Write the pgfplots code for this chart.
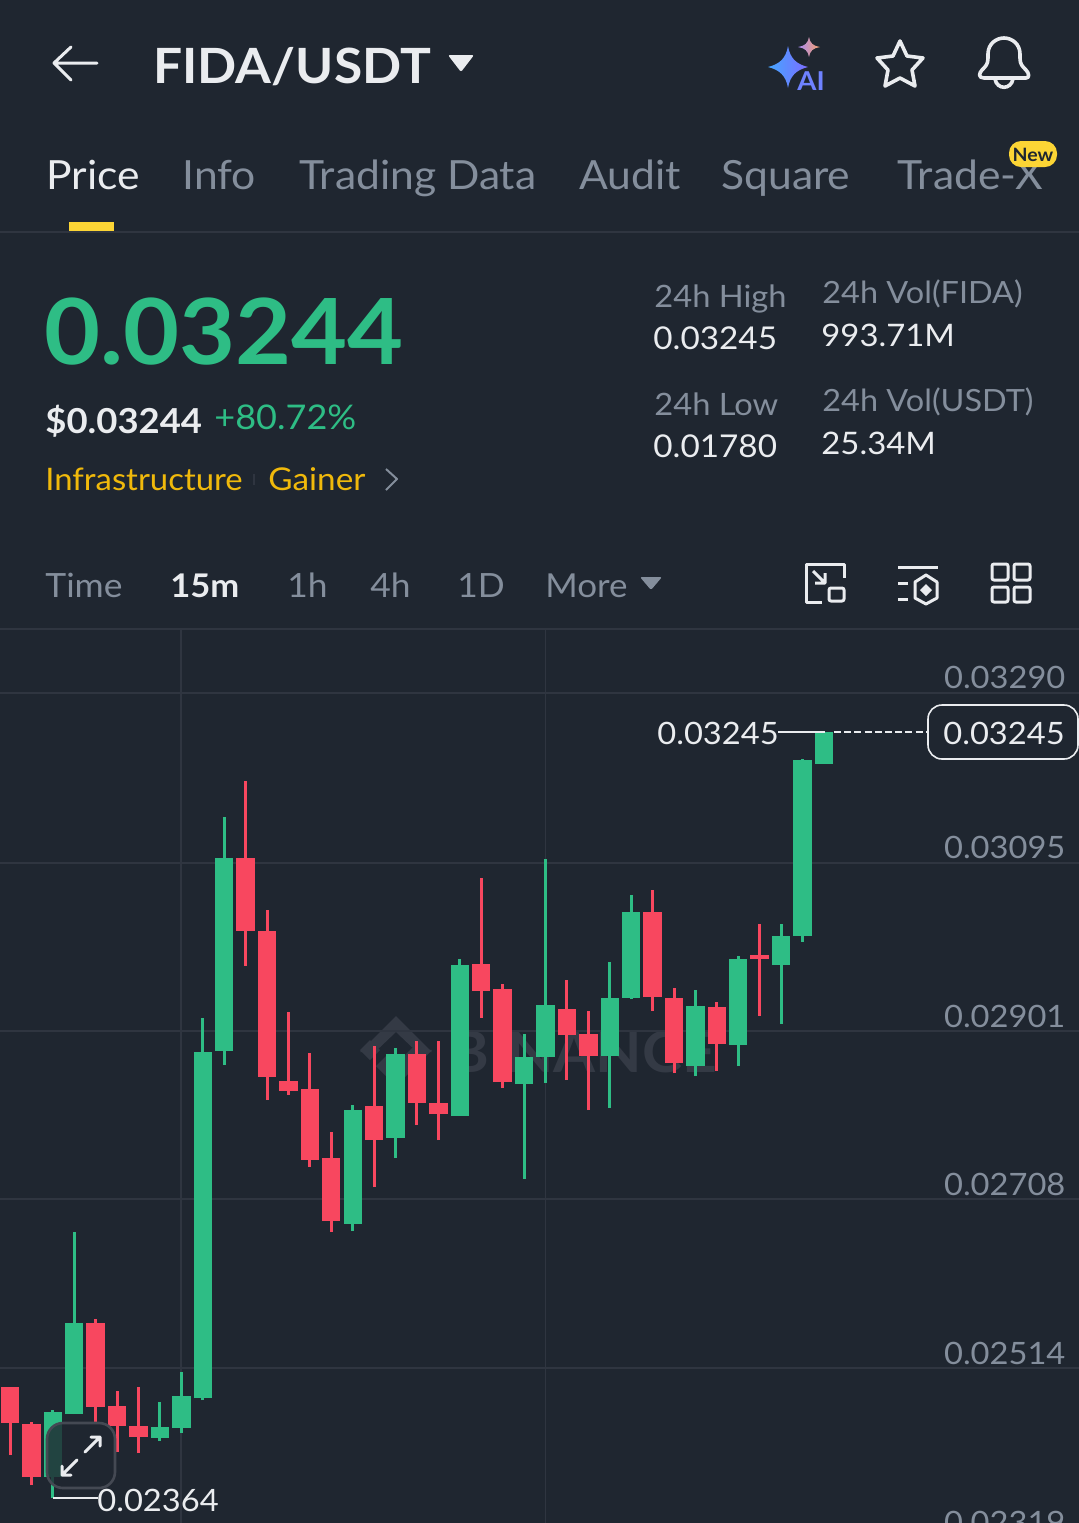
\documentclass[border=0pt]{standalone}
\usepackage{fontspec}
\setmainfont{Lato}[FakeStretch=1.06]
\usepackage{pgfplots}
\usepackage{pgfplotstable}
\pgfplotsset{compat=1.18}
\definecolor{bg}{HTML}{1F2630}
\definecolor{gridc}{HTML}{2F3540}
\definecolor{up}{HTML}{2EBD85}
\definecolor{down}{HTML}{F8475F}
\definecolor{gray1}{HTML}{848E9C}
\definecolor{white1}{HTML}{EAECEF}
\definecolor{yel}{HTML}{FCD535}
\definecolor{yel2}{HTML}{F0B90B}
\definecolor{wm}{HTML}{343A45}
\definecolor{aiA}{HTML}{45A6FF}
\definecolor{aiB}{HTML}{7C6CFF}
\definecolor{aiC}{HTML}{F5A06A}
\definecolor{aiD}{HTML}{A98BF5}
\definecolor{aiE}{HTML}{6F82FF}
\pgfplotstableread{
x bot top low high
2 0.023887 0.024634 0.023646 0.024657
3 0.024611 0.025658 0.024611 0.026704
7 0.024336 0.024462 0.024301 0.024749
8 0.024450 0.024818 0.024393 0.025094
9 0.024795 0.028773 0.024772 0.029164
10 0.028784 0.031003 0.028624 0.031475
16 0.026796 0.028106 0.026715 0.028164
18 0.027784 0.028750 0.027554 0.028819
21 0.028037 0.029773 0.028037 0.029842
24 0.028405 0.028716 0.027313 0.028980
25 0.028716 0.029313 0.028417 0.030992
28 0.028727 0.029394 0.028129 0.029808
29 0.029394 0.030382 0.029382 0.030578
32 0.028612 0.029302 0.028497 0.029486
34 0.028853 0.029842 0.028612 0.029877
36 0.029773 0.030106 0.029095 0.030244
37 0.030106 0.032130 0.030038 0.032141
38 0.032084 0.032452 0.032084 0.032452
}\greentable
\pgfplotstableread{
x bot top low high
0 0.024508 0.024922 0.024140 0.024922
1 0.023887 0.024496 0.023795 0.024519
4 0.024692 0.025658 0.024496 0.025704
5 0.024473 0.024703 0.024175 0.024876
6 0.024347 0.024473 0.024163 0.024922
11 0.030164 0.031003 0.029762 0.031888
12 0.028486 0.030164 0.028221 0.030405
13 0.028325 0.028440 0.028279 0.029233
14 0.027531 0.028348 0.027451 0.028761
15 0.026830 0.027554 0.026704 0.027853
17 0.027761 0.028152 0.027221 0.028842
19 0.028187 0.028750 0.027934 0.028899
20 0.028060 0.028187 0.027761 0.028899
22 0.029474 0.029785 0.029164 0.030773
23 0.028428 0.029497 0.028359 0.029555
26 0.028968 0.029267 0.028451 0.029601
27 0.028727 0.028980 0.028106 0.029244
30 0.029405 0.030382 0.029244 0.030635
31 0.028647 0.029394 0.028532 0.029509
33 0.028865 0.029290 0.028555 0.029348
35 0.029842 0.029888 0.029187 0.030244
}\redtable
\newcommand{\T}[5]{\node[anchor=base west,inner sep=0pt,text=#4,font=\fontsize{#3pt}{#3pt}\selectfont] at (#1,#2) {#5};}
\begin{document}
\begin{tikzpicture}[x=0.5pt,y=-0.5pt]
\path[use as bounding box] (0,0) rectangle (1079,1523);
\clip (0,0) rectangle (1079,1523);
\fill[bg] (0,0) rectangle (1079,1523);
% watermark
\begin{scope}[wm]
\fill (396,1016) -- (432,1052) -- (417,1052) -- (396,1032) -- (375,1052) -- (360,1052) -- cycle;
\fill (360,1050) -- (370,1040) -- (380,1050) -- (370,1060) -- cycle;
\fill (396,1064) -- (412,1048) -- (432,1050) -- (396,1086) -- (376,1066) -- (386,1056) -- cycle;
\node[anchor=base west,inner sep=0pt,text=wm,font=\fontsize{28.5pt}{28.5pt}\selectfont\bfseries] at (449,1072) {BINANCE};
\end{scope}
\begin{axis}[
  at={(0pt,-315pt)},anchor=north west,
  scale only axis,width=539.5pt,height=465pt,
  xmin=-0.4669,xmax=49.907,
  ymin=0.022933,ymax=0.033624,
  xtick={8,25},xticklabels={},
  ytick={0.02319,0.02514,0.02708,0.02901,0.03095,0.03290},
  yticklabels={0.02319,0.02514,0.02708,0.02901,0.03095,0.03290},
  yticklabel pos=right,
  y tick label style={anchor=base east,inner sep=0pt,xshift=-6.6pt,yshift=2pt,text=gray1,font=\fontsize{15.4pt}{15.4pt}\selectfont},
  scaled y ticks=false,
  grid=major,grid style={gridc,line width=0.9pt},
  axis line style={draw=none},tick style={draw=none},
  major tick length=0pt,
]
\addplot[draw=none,no markers,forget plot,
  error bars/.cd,y dir=plus,y explicit,error mark=none,
  error bar style={draw=up,line width=1.5pt}]
  table[x=x,y=low,y error plus expr=\thisrow{high}-\thisrow{low}]{\greentable};
\addplot[draw=none,no markers,forget plot,
  error bars/.cd,y dir=plus,y explicit,error mark=none,
  error bar style={draw=up,line width=9.2pt}]
  table[x=x,y=bot,y error plus expr=\thisrow{top}-\thisrow{bot}]{\greentable};
\addplot[draw=none,no markers,forget plot,
  error bars/.cd,y dir=plus,y explicit,error mark=none,
  error bar style={draw=down,line width=1.5pt}]
  table[x=x,y=low,y error plus expr=\thisrow{high}-\thisrow{low}]{\redtable};
\addplot[draw=none,no markers,forget plot,
  error bars/.cd,y dir=plus,y explicit,error mark=none,
  error bar style={draw=down,line width=9.2pt}]
  table[x=x,y=bot,y error plus expr=\thisrow{top}-\thisrow{bot}]{\redtable};
\end{axis}
% header
\draw[white1,line width=1.5pt,line cap=round,line join=round] (71,47) -- (54,63) -- (71,80) (54,63) -- (97,63);
\T{153}{83}{24.3}{white1}{\bfseries FIDA/USDT}
\fill[white1,rounded corners=1pt] (448,55) -- (474,55) -- (461,72) -- cycle;
% AI
\shade[left color=aiA,right color=aiB] (788,46) .. controls (790,58) and (796,64) .. (808,67) .. controls (796,70) and (790,76) .. (788,88) .. controls (786,76) and (780,70) .. (768,67) .. controls (780,64) and (786,58) .. (788,46) -- cycle;
\shade[left color=aiD,right color=aiC] (809,37) .. controls (810,43) and (813,46) .. (820,47) .. controls (813,48) and (810,51) .. (809,57) .. controls (808,51) and (805,48) .. (798,47) .. controls (805,46) and (808,43) .. (809,37) -- cycle;
\T{797}{90}{13}{aiE}{\bfseries AI}
\draw[white1,line width=1.8pt,line join=round] (900,41) -- (907,56) -- (923,58) -- (912,70) -- (915,86) -- (900,78) -- (885,86) -- (888,70) -- (877,58) -- (893,56) -- cycle;
\draw[white1,line width=1.8pt,line join=round] (984,78) -- (1026,78) .. controls (1030,78) and (1029,73) .. (1026,70) .. controls (1022,66) and (1020,64) .. (1020,58) -- (1020,54) .. controls (1020,44) and (1012,38) .. (1004,38) .. controls (996,38) and (988,44) .. (988,54) -- (988,58) .. controls (988,64) and (986,66) .. (982,70) .. controls (979,73) and (978,78) .. (984,78) -- cycle;
\draw[white1,line width=1.8pt] (995,79) .. controls (997,90) and (1011,90) .. (1013,79);
% tabs
\T{46}{189}{20.1}{white1}{Price}
\T{182}{189}{20.1}{gray1}{Info}
\T{299}{189}{20.1}{gray1}{Trading Data}
\T{579}{189}{20.1}{gray1}{Audit}
\T{721}{189}{20.1}{gray1}{Square}
\T{897}{189}{20.1}{gray1}{Trade-X}
\fill[yel,rounded corners=6pt] (1009,141) rectangle (1057,167);
\node[text=bg,font=\fontsize{9.2pt}{9.2pt}\selectfont\bfseries,inner sep=0pt] at (1033,155) {New};
\fill[yel] (69,222) rectangle (114,231);
\fill[gridc] (0,231) rectangle (1079,233);
% price block
\T{44}{364}{45.6}{up}{\bfseries 0.03244}
\T{45}{433}{17.2}{white1}{\bfseries \$0.03244}
\T{214}{429}{17}{up}{+80.72\%}
\T{45}{490}{15.5}{yel2}{Infrastructure}
\fill[gridc] (253,474) rectangle (255,485);
\T{268}{490}{15.7}{yel2}{Gainer}
\draw[gray1,line width=1pt,line join=round] (386,469) -- (397,479) -- (386,490);
\T{654}{307}{15.4}{gray1}{24h High}
\T{653}{349}{15.7}{white1}{0.03245}
\T{822}{303}{15.3}{gray1}{24h Vol(FIDA)}
\T{821}{346}{15.5}{white1}{993.71M}
\T{654}{415}{15.4}{gray1}{24h Low}
\T{653}{457}{15.7}{white1}{0.01780}
\T{822}{411}{15.3}{gray1}{24h Vol(USDT)}
\T{821}{454}{15.5}{white1}{25.34M}
% interval bar
\T{45}{597}{16.7}{gray1}{Time}
\T{170}{597}{16.3}{white1}{\bfseries 15m}
\T{287}{597}{16.7}{gray1}{1h}
\T{370}{597}{16.7}{gray1}{4h}
\T{457}{597}{16.7}{gray1}{1D}
\T{545}{597}{16.5}{gray1}{More}
\fill[gray1,rounded corners=1pt] (640,577) -- (662,577) -- (651,590) -- cycle;
\begin{scope}[white1,line width=1.5pt,line join=round]
\draw (822,602) -- (806,602) -- (806,564) -- (844,564) -- (844,578);
\draw[rounded corners=1pt] (829,588) rectangle (844,601);
\draw (813,571) -- (824,582) (825,573) -- (825,583) -- (815,583);
\draw (898,567) -- (938,567) (898,583) -- (908,583) (898,599) -- (908,599);
\draw (926,575) -- (937,582) -- (937,598) -- (926,604) -- (915,598) -- (915,582) -- cycle;
\fill (926,584) -- (932,590) -- (926,596) -- (920,590) -- cycle;
\draw[rounded corners=1pt] (992,564) rectangle (1008,580) (1014,564) rectangle (1030,580) (992,587) rectangle (1008,602) (1014,587) rectangle (1030,602);
\end{scope}
\fill[gridc] (0,628) rectangle (1079,630);
% high / low annotations
\draw[white1,line width=0.8pt] (778,732) -- (825,732);
\draw[white1,line width=0.7pt,dash pattern=on 3.5pt off 1.6pt] (834,732) -- (926,732);
\draw[white1,line width=0.8pt,fill=bg,rounded corners=7pt] (928,705) rectangle (1078,759);
\T{943}{744}{15.4}{white1}{0.03245}
\T{657}{744}{15.4}{white1}{0.03245}
\draw[white1,line width=0.8pt] (53,1498) -- (98,1498);
\T{97}{1511}{15.4}{white1}{0.02364}
% expand button
\draw[gridc!90!white,fill=bg,fill opacity=0.8,line width=1.3pt,rounded corners=8pt] (47,1423) rectangle (115,1488);
\begin{scope}[white1,line width=1.5pt,line cap=round,line join=round]
\draw (85,1452) -- (100,1437) (91,1437) -- (100,1437) -- (100,1446);
\draw (77,1460) -- (62,1475) (62,1466) -- (62,1475) -- (71,1475);
\end{scope}
\end{tikzpicture}
\end{document}
